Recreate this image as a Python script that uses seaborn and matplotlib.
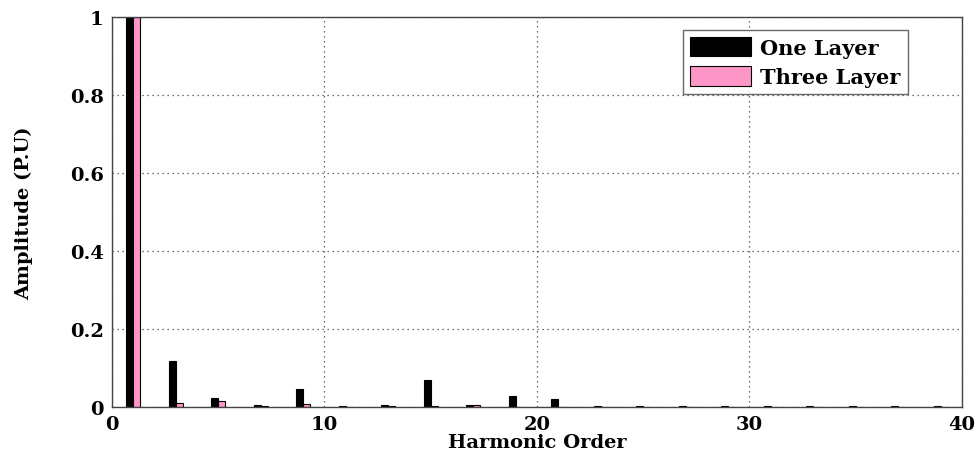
import numpy as np
import pandas as pd
import matplotlib
matplotlib.use("Agg")
import matplotlib.pyplot as plt
import seaborn as sns

harmonics = [1, 3, 5, 7, 9, 11, 13, 15, 17, 19, 21, 23, 25, 27, 29, 31, 33, 35, 37, 39]
one_layer = [1.0, 0.117, 0.023, 0.006, 0.046, 0.003, 0.006, 0.070, 0.006, 0.027,
             0.020, 0.003, 0.003, 0.003, 0.003, 0.003, 0.003, 0.003, 0.003, 0.003]
three_layer = [1.0, 0.010, 0.015, 0.002, 0.007, 0.001, 0.002, 0.002, 0.005, 0.001,
               0.001, 0.001, 0.001, 0.001, 0.001, 0.001, 0.001, 0.001, 0.001, 0.001]
series_names = ["One Layer", "Three Layer"]
colors = ["#000000", "#FF96C8"]
x_ticks = [0, 10, 20, 30, 40]
y_ticks = [0, 0.2, 0.4, 0.6, 0.8, 1.0]
y_tick_labels = ["0", "0.2", "0.4", "0.6", "0.8", "1"]

df = pd.DataFrame({
    "Harmonic": harmonics * 2,
    "Amplitude": one_layer + three_layer,
    "Series": [series_names[0]] * len(harmonics) + [series_names[1]] * len(harmonics),
})

sns.set_style("white")
plt.rcParams["font.family"] = ["DejaVu Serif", "Liberation Serif"]
plt.rcParams["font.weight"] = "bold"
plt.rcParams["text.color"] = "black"
plt.rcParams["axes.labelcolor"] = "black"
plt.rcParams["xtick.color"] = "black"
plt.rcParams["ytick.color"] = "black"

fig = plt.figure(figsize=(9.79, 4.60), dpi=100)
ax = fig.add_axes([0.1144, 0.113, 0.8682, 0.848])

sns.barplot(data=df, x="Harmonic", y="Amplitude", hue="Series",
            palette=colors, native_scale=True, width=0.32, gap=0, saturation=1,
            edgecolor="black", linewidth=0.8, ax=ax, errorbar=None)

ax.set_xlim(0, 40)
ax.set_ylim(0, 1)
ax.set_xticks(x_ticks)
ax.set_xticklabels([str(t) for t in x_ticks], fontsize=14, fontweight="bold")
ax.set_yticks(y_ticks)
ax.set_yticklabels(y_tick_labels, fontsize=14, fontweight="bold")
ax.grid(True, linestyle=(0, (1, 3)), color="#444444", linewidth=0.9)
ax.set_axisbelow(True)
for s in ax.spines.values():
    s.set_color("#444444")
    s.set_linewidth(1.0)
ax.tick_params(axis="both", direction="in", length=4, color="#444444", pad=6)
ax.set_xlabel("Harmonic Order", fontsize=14, fontweight="bold", labelpad=0)
ax.set_ylabel("Amplitude (P.U)", fontsize=14, fontweight="bold", labelpad=26)

leg = ax.legend(loc="upper right", bbox_to_anchor=(0.936, 0.967), fontsize=15,
                frameon=True, fancybox=False, edgecolor="#444444",
                handlelength=2.9, handleheight=1.05, borderpad=0.35,
                labelspacing=0.4, handletextpad=0.45, borderaxespad=0)
leg.get_frame().set_linewidth(1.0)
for t in leg.get_texts():
    t.set_fontweight("bold")

fig.savefig("out.png", dpi=100)
